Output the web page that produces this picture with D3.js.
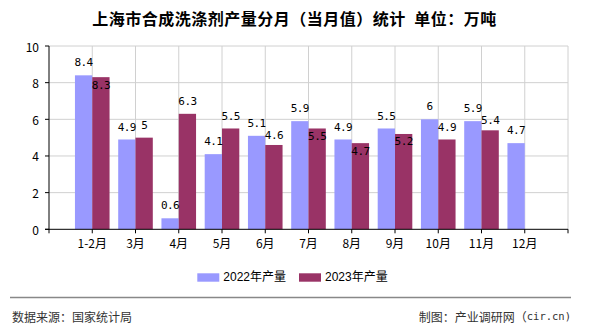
<!DOCTYPE html>
<html><head><meta charset="utf-8">
<script src="https://cdn.jsdelivr.net/npm/d3@7/dist/d3.min.js"></script>
<style>body{margin:0;background:#fff}svg{display:block}</style>
</head><body>
<svg id="c" width="590" height="330"></svg>
<script>
const categories = ["1-2月","3月","4月","5月","6月","7月","8月","9月","10月","11月","12月"];
const values2022 = [8.4,4.9,0.6,4.1,5.1,5.9,4.9,5.5,6,5.9,4.7];
const values2023 = [8.3,5,6.3,5.5,4.6,5.5,4.7,5.2,4.9,5.4,null];
const seriesNames = ["2022年产量","2023年产量"];
const yTicks = [0,2,4,6,8,10];
const colors = ["#9999ff","#993366"];

const svg = d3.select("#c");
const L = 49, R = 568, T = 46, B = 229.3;
const step = (R - L) / 12;
const x = d3.scalePoint().domain(categories).range([L + step, R - step]);
const y = d3.scaleLinear().domain([0, 10]).range([B, T]);
const bw = step * 0.4;
const cjk = "SimSun,'Noto Sans CJK SC',sans-serif";

// title
svg.append("text").attr("x", 294.5).attr("y", 18).attr("text-anchor","middle")
  .attr("dominant-baseline","central")
  .style("font-family","'Noto Sans CJK SC',sans-serif").style("font-weight","bold")
  .style("font-size","16px").style("letter-spacing","0.5px").attr("fill","#000")
  .text("上海市合成洗涤剂产量分月（当月值）统计\u2002单位：万吨");

// grid
const g = svg.append("g");
g.selectAll("line.h").data(yTicks.filter(d=>d>0)).join("line")
  .attr("x1", L).attr("x2", R).attr("y1", d=>y(d)).attr("y2", d=>y(d))
  .attr("stroke","#d0d0d0").attr("stroke-width",1);
const vx = categories.map(c=>x(c)).concat([R]);
g.selectAll("line.v").data(vx).join("line")
  .attr("x1", d=>d).attr("x2", d=>d).attr("y1", T).attr("y2", B)
  .attr("stroke","#d0d0d0").attr("stroke-width",1);

// bars
const bars = svg.append("g");
bars.selectAll("rect.a").data(values2022).join("rect")
  .attr("x",(d,i)=>x(categories[i]) - bw).attr("width", bw)
  .attr("y", d=>y(d)).attr("height", d=>B - y(d)).attr("fill", colors[0]);
bars.selectAll("rect.b").data(values2023.map((v,i)=>({v,i})).filter(d=>d.v!=null)).join("rect")
  .attr("x", d=>x(categories[d.i])).attr("width", bw)
  .attr("y", d=>y(d.v)).attr("height", d=>B - y(d.v)).attr("fill", colors[1]);

// axes
const ax = svg.append("g").attr("stroke","#000").attr("stroke-width",1);
ax.append("line").attr("x1", L).attr("x2", L).attr("y1", T).attr("y2", B + 0.5);
ax.append("line").attr("x1", L - 4).attr("x2", R).attr("y1", B).attr("y2", B);
ax.selectAll("line.yt").data(yTicks).join("line")
  .attr("x1", L - 4).attr("x2", L).attr("y1", d=>y(d)).attr("y2", d=>y(d));
ax.selectAll("line.xt").data([L].concat(vx)).join("line")
  .attr("x1", d=>d).attr("x2", d=>d).attr("y1", B).attr("y2", B + 4);

svg.append("g").selectAll("text").data(yTicks).join("text")
  .attr("x", 39).attr("y", d=>y(d)).attr("text-anchor","end").attr("dominant-baseline","central")
  .style("font-family", cjk).style("font-size","12px").attr("fill","#000").text(d=>d);
svg.append("g").selectAll("text").data(categories).join("text")
  .attr("x", d=>x(d)).attr("y", 242).attr("text-anchor","middle").attr("dominant-baseline","central")
  .style("font-family", cjk).style("font-size","12px").attr("fill","#000").text(d=>d);

// value labels
const lf = "'DejaVu Sans Mono',monospace";
const off = 12.4, cw = 6;
const lab = [];
values2022.forEach((v,i)=>{
  const cx = x(categories[i]) - bw/2;
  lab.push({t:String(v), x:cx, y:y(v)-off});
});
values2023.forEach((v,i)=>{
  if (v==null) return;
  const cx = x(categories[i]) + bw/2;
  let cy = y(v) - off;
  const a = lab[i];
  const aRight = a.x + a.t.length*cw/2;
  const bLeft = cx - String(v).length*cw/2;
  if (bLeft < aRight + 1 && Math.abs(cy - a.y) < 12) {
    const pushed = a.y + 12;
    cy = (pushed - cy > 3.5) ? y(v) + 8 : pushed;
  }
  lab.push({t:String(v), x:cx, y:cy});
});
svg.append("g").selectAll("text").data(lab).join("text")
  .attr("x", d=>d.x).attr("y", d=>d.y).attr("text-anchor","middle").attr("dominant-baseline","central")
  .style("font-family", lf).style("font-size","11px").style("letter-spacing","-0.6px")
  .attr("fill","#000").text(d=>d.t);

// legend
const leg = svg.append("g");
const lx = [197.3, 299];
seriesNames.forEach((n,i)=>{
  leg.append("rect").attr("x", lx[i]).attr("y", 273.3).attr("width", 22).attr("height", 8.4).attr("fill", colors[i]);
  leg.append("text").attr("x", lx[i] + 26).attr("y", 277.3).attr("dominant-baseline","central")
    .style("font-family","'Liberation Sans','Noto Sans CJK SC',sans-serif").style("font-size","12px")
    .attr("fill","#000").text(n);
});

// footer
svg.append("line").attr("x1",10).attr("x2",571).attr("y1",297.5).attr("y2",297.5).attr("stroke","#888").attr("stroke-width",1.5);
svg.append("text").attr("x",12).attr("y",316).attr("dominant-baseline","central")
  .style("font-family", cjk).style("font-size","12px").attr("fill","#333").text("数据来源：国家统计局");
const ft = svg.append("text").attr("x",571).attr("y",316).attr("text-anchor","end").attr("dominant-baseline","central")
  .style("font-family", cjk).style("font-size","12px").attr("fill","#333");
ft.append("tspan").text("制图：产业调研网（");
ft.append("tspan").style("font-family", lf).style("font-size","10.5px").text("cir.cn)");
</script>
</body></html>
